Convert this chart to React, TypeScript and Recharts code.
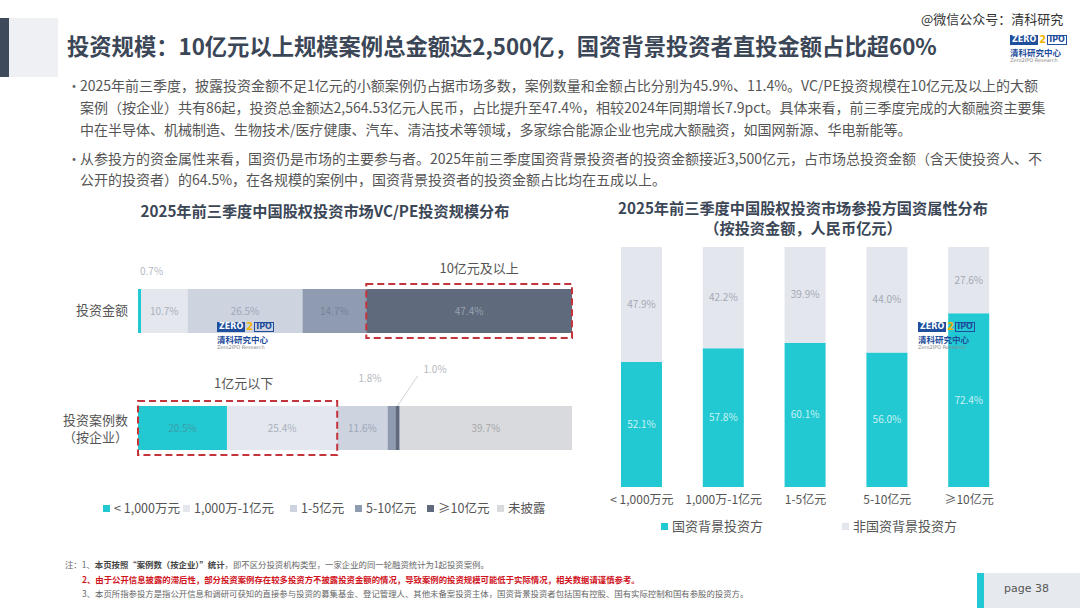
import React from "react";
import { BarChart, Bar, XAxis, YAxis, LabelList } from "recharts";

// 左图：VC/PE 投资规模分布（%）
const scaleSegments = ["< 1,000万元", "1,000万-1亿元", "1-5亿元", "5-10亿元", "≥10亿元", "未披露"];
const rowLabels = ["投资金额", "投资案例数（按企业）"];
const amountShare = [0.7, 10.7, 26.5, 14.7, 47.4, 0];
const caseShare = [20.5, 25.4, 11.6, 1.8, 1.0, 39.7];

// 右图：参投方国资属性分布（%）
const investorScales = ["< 1,000万元", "1,000万-1亿元", "1-5亿元", "5-10亿元", "≥10亿元"];
const stateShare = [52.1, 57.8, 60.1, 56.0, 72.4];
const nonStateShare = [47.9, 42.2, 39.9, 44.0, 27.6];

const segColors = ["#22c9d2", "#e4e7ee", "#cdd3df", "#8f9bb0", "#5f6a7c", "#d9dadd"];
const segText = ["#3a9fa8", "#a9b0bd", "#a0a8b7", "#76839a", "#98a1b1", "#a6a7aa"];
const TEAL = "#22c9d2";
const RED = "#c3343d";
const FONT = '"Noto Sans CJK SC", "Noto Sans", sans-serif';

const scaleRows = rowLabels.map((row, r) => {
  const src = r === 0 ? amountShare : caseShare;
  const o: any = { row };
  src.forEach((v, i) => (o[`s${i}`] = v));
  return o;
});

const investorRows = investorScales.map((scale, i) => ({
  scale,
  state: stateShare[i],
  nonState: nonStateShare[i],
}));

const fmt = (v: number) => `${v.toFixed(1)}%`;

const RowTick = (props: any) => {
  const { x, y, payload } = props;
  const v: string = payload.value;
  const lines = v.includes("（") ? [v.slice(0, v.indexOf("（")), v.slice(v.indexOf("（"))] : [v];
  return (
    <text x={x - 2} y={y} textAnchor="end" fill="#555" fontSize={13} fontFamily={FONT}>
      {lines.map((l, i) => (
        <tspan key={i} x={x - 2} dy={i === 0 ? (lines.length > 1 ? -3 : 4) : 17}>
          {l}
        </tspan>
      ))}
    </text>
  );
};

const box = (p: any) => p.viewBox ?? p;

const makeSegLabel = (seg: number) => (props: any) => {
  const { x, y, width, height } = box(props);
  const { index, value } = props;
  if (!value) return null;
  const cx = x + width / 2;
  const cy = y + height / 2;
  // 小数值标签放在条外
  if (seg === 0 && value === amountShare[0]) {
    return (
      <text x={x + 2} y={y - 14} fill="#b5b9c0" fontSize={10} fontFamily={FONT}>
        {fmt(value)}
      </text>
    );
  }
  if (index === 1 && seg === 3) {
    return (
      <text x={x - 6} y={y - 24} textAnchor="end" fill="#b5b9c0" fontSize={10} fontFamily={FONT}>
        {fmt(value)}
      </text>
    );
  }
  if (index === 1 && seg === 4) {
    return (
      <g>
        <line x1={cx} y1={y} x2={cx + 20} y2={y - 30} stroke="#d0d3d8" strokeWidth={1} />
        <text x={cx + 26} y={y - 33} fill="#b5b9c0" fontSize={10} fontFamily={FONT}>
          {fmt(value)}
        </text>
      </g>
    );
  }
  const parts: any[] = [
    <text key="t" x={cx} y={cy + 4} textAnchor="middle" fill={segText[seg]} fontSize={10} fontFamily={FONT}>
      {fmt(value)}
    </text>,
  ];
  // 10亿元及以上 标注框
  if (index === 0 && seg === 4) {
    parts.push(
      <g key="a">
        <rect x={x} y={y - 5} width={width} height={height + 10} fill="none" stroke={RED} strokeWidth={2} strokeDasharray="7 4" />
        <text x={cx + 10} y={y - 16} textAnchor="middle" fill="#555" fontSize={13} fontFamily={FONT}>
          10亿元及以上
        </text>
      </g>
    );
  }
  // 1亿元以下 标注框（从未披露段反推刻度）
  if (seg === 5 && value === caseShare[5]) {
    const unit = width / value;
    const prior = caseShare.slice(0, 5).reduce((a, b) => a + b, 0);
    const left = x - unit * prior;
    const right = left + unit * (caseShare[0] + caseShare[1]);
    parts.push(
      <g key="b">
        <rect x={left} y={y - 5} width={right - left} height={height + 10} fill="none" stroke={RED} strokeWidth={2} strokeDasharray="7 4" />
        <text x={(left + right) / 2 + 6} y={y - 18} textAnchor="middle" fill="#555" fontSize={13} fontFamily={FONT}>
          1亿元以下
        </text>
      </g>
    );
  }
  return <g>{parts}</g>;
};

const Logo = ({ left, top }: { left: number; top: number }) => (
  <div style={{ position: "absolute", left, top, width: 60, lineHeight: 1, whiteSpace: "nowrap" }}>
    <div style={{ display: "flex", alignItems: "center", height: 11 }}>
      <span style={{ background: "#1f4e9c", color: "#fff", fontSize: 8, fontWeight: 700, padding: "1px 2px", fontFamily: "DejaVu Sans" }}>ZERO</span>
      <span style={{ color: "#f0b400", fontSize: 10, fontWeight: 700, margin: "0 1px", fontFamily: "DejaVu Sans" }}>2</span>
      <span style={{ border: "1px solid #1f4e9c", color: "#1f4e9c", fontSize: 8, fontWeight: 700, padding: "0 1px", fontFamily: "DejaVu Sans" }}>IPO</span>
    </div>
    <div style={{ fontSize: 8.5, color: "#1f4e9c", fontWeight: 700, marginTop: 3 }}>清科研究中心</div>
    <div style={{ fontSize: 5, color: "#888", marginTop: 1, fontFamily: "DejaVu Sans" }}>Zero2IPO Research</div>
  </div>
);

const Sq = ({ color }: { color: string }) => (
  <span style={{ display: "inline-block", width: 7, height: 7, background: color, marginRight: 4, verticalAlign: "middle", position: "relative", top: -1 }} />
);

const bullet1 = [
  "2025年前三季度，披露投资金额不足1亿元的小额案例仍占据市场多数，案例数量和金额占比分别为45.9%、11.4%。VC/PE投资规模在10亿元及以上的大额",
  "案例（按企业）共有86起，投资总金额达2,564.53亿元人民币，占比提升至47.4%，相较2024年同期增长7.9pct。具体来看，前三季度完成的大额融资主要集",
  "中在半导体、机械制造、生物技术/医疗健康、汽车、清洁技术等领域，多家综合能源企业也完成大额融资，如国网新源、华电新能等。",
];
const bullet2 = [
  "从参投方的资金属性来看，国资仍是市场的主要参与者。2025年前三季度国资背景投资者的投资金额接近3,500亿元，占市场总投资金额（含天使投资人、不",
  "公开的投资者）的64.5%，在各规模的案例中，国资背景投资者的投资金额占比均在五成以上。",
];

const leftLegendX = [103, 183, 290, 355, 427, 497];

export default function App() {
  const textLine = (t: string, top: number, key: any) => (
    <div key={key} style={{ position: "absolute", left: 80, top, fontSize: 14, color: "#555", whiteSpace: "nowrap", lineHeight: "20px" }}>
      {t}
    </div>
  );
  return (
    <div style={{ position: "absolute", left: 0, top: 0, width: 1080, height: 608, background: "#fff", overflow: "hidden", fontFamily: FONT }}>
      {/* 页眉装饰 */}
      <div style={{ position: "absolute", left: 0, top: 18, width: 9, height: 59, background: "#3d4a5c" }} />
      <div style={{ position: "absolute", left: 9, top: 18, width: 49, height: 59, background: "#eef0f4" }} />
      <div style={{ position: "absolute", left: 67, top: 31, fontSize: 22.3, fontWeight: 700, color: "#3b4656", whiteSpace: "nowrap", lineHeight: "28px" }}>
        投资规模：10亿元以上规模案例总金额达2,500亿，国资背景投资者直投金额占比超60%
      </div>
      <div style={{ position: "absolute", left: 921, top: 9, fontSize: 13, color: "#333", whiteSpace: "nowrap" }}>@微信公众号：清科研究</div>
      <Logo left={1010} top={34} />

      {/* 正文要点 */}
      <div style={{ position: "absolute", left: 67, top: 75, fontSize: 14, color: "#666" }}>•</div>
      {bullet1.map((t, i) => textLine(t, 75 + i * 22, `a${i}`))}
      <div style={{ position: "absolute", left: 67, top: 148, fontSize: 14, color: "#666" }}>•</div>
      {bullet2.map((t, i) => textLine(t, 148 + i * 21, `b${i}`))}

      {/* 左图 */}
      <div style={{ position: "absolute", left: 135, top: 199, width: 380, textAlign: "center", fontSize: 15.2, fontWeight: 700, color: "#3b4656", whiteSpace: "nowrap" }}>
        2025年前三季度中国股权投资市场VC/PE投资规模分布
      </div>
      <div style={{ position: "absolute", left: 0, top: 250 }}>
        <BarChart width={580} height={240} data={scaleRows} layout="vertical" margin={{ top: 2, right: 8, bottom: 4, left: 0 }} barSize={44}>
          <XAxis type="number" domain={[0, 100]} hide />
          <YAxis type="category" dataKey="row" width={138} axisLine={false} tickLine={false} tick={<RowTick />} />
          {scaleSegments.map((s, i) => (
            <Bar key={s} dataKey={`s${i}`} name={s} stackId="a" fill={segColors[i]} isAnimationActive={false}>
              <LabelList dataKey={`s${i}`} content={makeSegLabel(i)} />
            </Bar>
          ))}
        </BarChart>
      </div>
      <Logo left={217} top={321} />
      {scaleSegments.map((s, i) => (
        <div key={s} style={{ position: "absolute", left: leftLegendX[i], top: 498, fontSize: 12.5, color: "#555", whiteSpace: "nowrap" }}>
          <Sq color={segColors[i]} />
          {s}
        </div>
      ))}

      {/* 右图 */}
      <div style={{ position: "absolute", left: 603, top: 197, width: 400, textAlign: "center", fontSize: 15.2, fontWeight: 700, color: "#3b4656", whiteSpace: "nowrap", lineHeight: "20px" }}>
        <div>2025年前三季度中国股权投资市场参投方国资属性分布</div>
        <div>（按投资金额，人民币亿元）</div>
      </div>
      <div style={{ position: "absolute", left: 600, top: 240 }}>
        <BarChart width={411} height={277} data={investorRows} margin={{ top: 7, right: 1, bottom: 0, left: 1 }} barSize={41}>
          <XAxis dataKey="scale" axisLine={false} tickLine={false} interval={0} height={30} tick={{ fontSize: 12, fill: "#555", fontFamily: FONT }} />
          <YAxis hide domain={[0, 100]} />
          <Bar dataKey="state" name="国资背景投资方" stackId="b" fill={TEAL} isAnimationActive={false}>
            <LabelList dataKey="state" position="center" formatter={(v: any) => fmt(Number(v))} fill="#c9f1f3" fontSize={10} />
          </Bar>
          <Bar dataKey="nonState" name="非国资背景投资方" stackId="b" fill="#e3e6ed" isAnimationActive={false}>
            <LabelList dataKey="nonState" position="center" formatter={(v: any) => fmt(Number(v))} fill="#a3a9b3" fontSize={10} />
          </Bar>
        </BarChart>
      </div>
      <Logo left={918} top={321} />
      <div style={{ position: "absolute", left: 661, top: 516, fontSize: 13, color: "#555", whiteSpace: "nowrap" }}>
        <Sq color={TEAL} />国资背景投资方
      </div>
      <div style={{ position: "absolute", left: 842, top: 516, fontSize: 13, color: "#555", whiteSpace: "nowrap" }}>
        <Sq color="#e3e6ed" />非国资背景投资方
      </div>

      {/* 注释 */}
      <div style={{ position: "absolute", left: 65, top: 557, fontSize: 8.4, color: "#666", whiteSpace: "nowrap", lineHeight: "14.5px" }}>
        <div>
          注：1、<b style={{ color: "#444" }}>本页按照“案例数（按企业）”统计</b>，即不区分投资机构类型，一家企业的同一轮融资统计为1起投资案例。
        </div>
        <div style={{ paddingLeft: 17, color: "#d0141e", fontWeight: 700 }}>
          2、由于公开信息披露的滞后性，部分投资案例存在较多投资方不披露投资金额的情况，导致案例的投资规模可能低于实际情况，相关数据请谨慎参考。
        </div>
        <div style={{ paddingLeft: 17 }}>
          3、本页所指参投方是指公开信息和调研可获知的直接参与投资的募集基金、登记管理人、其他未备案投资主体，国资背景投资者包括国有控股、国有实际控制和国有参股的投资方。
        </div>
      </div>

      {/* 页码 */}
      <div style={{ position: "absolute", left: 977, top: 573, width: 103, height: 35, background: "#e6e9ee" }} />
      <div style={{ position: "absolute", left: 977, top: 573, width: 7, height: 35, background: TEAL }} />
      <div style={{ position: "absolute", left: 1004, top: 582, fontSize: 11, color: "#555", fontFamily: "DejaVu Sans" }}>page 38</div>
    </div>
  );
}
